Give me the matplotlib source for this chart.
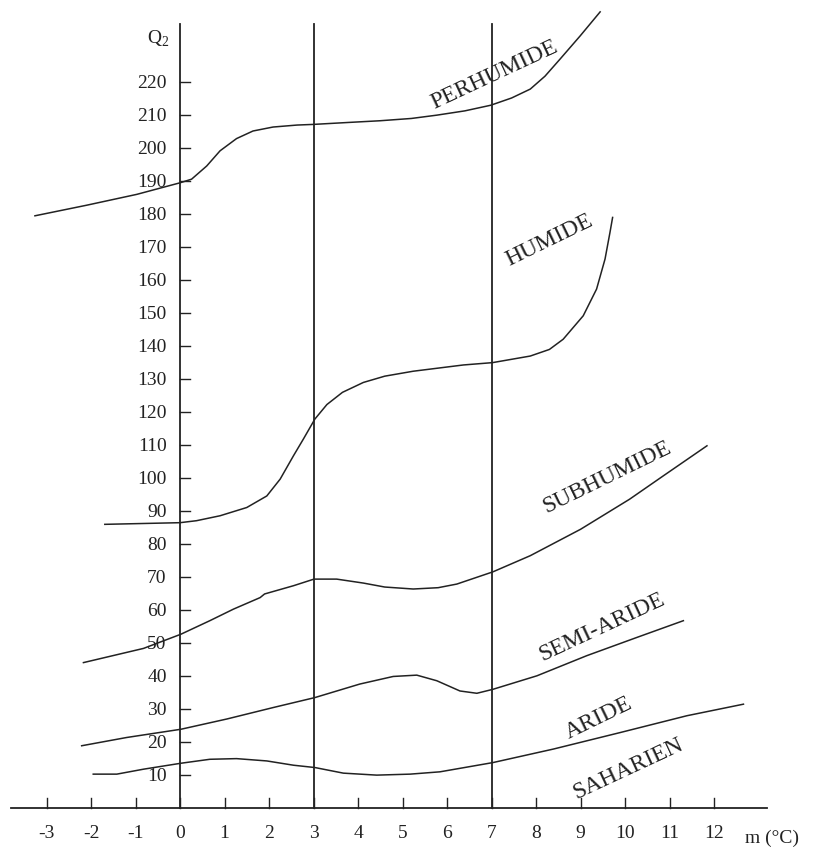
# Emberger climagram: Q2 against m (°C), with bioclimatic zone boundaries.

import matplotlib
matplotlib.use('Agg')
import matplotlib.pyplot as plt

plt.rcParams['font.family'] = ['Liberation Serif', 'DejaVu Serif']

# axis ticks
x_ticks = [-3, -2, -1, 0, 1, 2, 3, 4, 5, 6, 7, 8, 9, 10, 11, 12]
y_ticks = [10, 20, 30, 40, 50, 60, 70, 80, 90, 100, 110, 120, 130, 140, 150,
           160, 170, 180, 190, 200, 210, 220]
v_lines = [0, 3, 7]  # y axis plus the two reference lines

# zone boundaries
perhumide_x = [-3.26, -2.1, -0.97, 0.0, 0.26, 0.6, 0.9, 1.27, 1.64, 2.09, 2.63,
               3.0, 3.8, 4.49, 5.2, 5.77, 6.4, 6.98, 7.45, 7.87, 8.2, 8.54,
               8.99, 9.44]
perhumide_y = [179.5, 182.7, 186.0, 189.5, 190.6, 194.6, 199.2, 202.9, 205.2,
               206.4, 207.0, 207.2, 207.8, 208.3, 209.0, 210.0, 211.3, 213.0,
               215.2, 217.9, 221.8, 227.0, 234.0, 241.3]

humide_x = [-1.69, 0.0, 0.37, 0.9, 1.5, 1.95, 2.25, 2.55, 2.77, 3.03, 3.3, 3.65,
            4.12, 4.6, 5.24, 6.37, 7.02, 7.87, 8.3, 8.61, 9.06, 9.36, 9.55,
            9.66, 9.72]
humide_y = [86.0, 86.5, 87.1, 88.6, 91.1, 94.6, 99.7, 106.8, 111.8, 117.9, 122.3,
            126.0, 129.0, 130.9, 132.4, 134.3, 135.0, 137.0, 139.0, 142.1, 149.2,
            157.3, 166.4, 174.4, 179.0]

subhumide_x = [-2.17, -0.82, 0.02, 0.67, 1.2, 1.8, 1.9, 2.55, 3.01, 3.52, 4.12,
               4.6, 5.24, 5.8, 6.22, 7.03, 7.87, 9.0, 10.1, 10.86, 11.84]
subhumide_y = [44.1, 48.4, 52.7, 56.8, 60.3, 63.8, 64.9, 67.4, 69.4, 69.4, 68.2,
               67.0, 66.4, 66.8, 67.9, 71.6, 76.5, 84.5, 93.6, 100.7, 109.8]

semiaride_x = [-2.21, -1.2, 0.02, 1.05, 2.1, 3.03, 4.04, 4.79, 5.32, 5.77, 6.29,
               6.67, 7.03, 8.02, 9.14, 10.26, 11.31]
semiaride_y = [18.9, 21.4, 23.9, 27.0, 30.5, 33.5, 37.6, 39.9, 40.3, 38.6, 35.5,
               34.8, 36.0, 40.1, 46.2, 51.7, 56.8]

aride_x = [-1.95, -1.42, -0.82, 0.02, 0.67, 1.27, 1.95, 2.55, 3.03, 3.67, 4.42,
           5.17, 5.84, 7.03, 8.39, 9.89, 11.39, 12.66]
aride_y = [10.3, 10.3, 11.8, 13.6, 14.8, 15.0, 14.3, 13.0, 12.3, 10.6, 10.0,
           10.3, 11.0, 13.8, 17.9, 22.9, 28.0, 31.5]

# zone names
zone_names = ['PERHUMIDE', 'HUMIDE', 'SUBHUMIDE', 'SEMI-ARIDE', 'ARIDE', 'SAHARIEN']
zone_x = [7.06, 8.31, 9.59, 9.48, 9.4, 10.07]
zone_y = [222.4, 172.4, 100.7, 55.2, 27.5, 12.3]
zone_rot = [25, 26, 26, 25, 26, 25]

fig = plt.figure(figsize=(8.24, 8.54), dpi=100)
ax = fig.add_axes([0, 0, 1, 1])
ax.set_xlim(-4.045, 14.47)
ax.set_ylim(-13.6, 245.2)
ax.axis('off')

ink = '#222222'

# frame: base line, vertical lines, ticks
ax.plot([-3.8, 13.2], [0, 0], color=ink, lw=1.3)
for v in v_lines:
    ax.plot([v, v], [0, 237.6], color=ink, lw=1.3)
for t in x_ticks:
    ax.plot([t, t], [0, 3.0], color=ink, lw=1.0)
    ax.text(t, -7.3, str(t), ha='center', va='center', fontsize=14, color=ink)
for t in y_ticks:
    ax.plot([0, 0.22], [t, t], color=ink, lw=1.0)
    ax.text(-0.3, t, str(t), ha='right', va='center', fontsize=14, color=ink)

ax.text(-0.49, 233.3, r'Q$_\mathregular{2}$', ha='center', va='center',
        fontsize=14, color=ink)
ax.text(12.7, -8.8, 'm (°C)', ha='left', va='center', fontsize=14, color=ink)

# boundaries
curves = [(perhumide_x, perhumide_y), (humide_x, humide_y),
          (subhumide_x, subhumide_y), (semiaride_x, semiaride_y),
          (aride_x, aride_y)]
for cx, cy in curves:
    ax.plot(cx, cy, color=ink, lw=1.1, solid_joinstyle='round')

for name, lx, ly, rot in zip(zone_names, zone_x, zone_y, zone_rot):
    ax.text(lx, ly, name, ha='center', va='center', rotation=rot,
            rotation_mode='anchor', fontsize=17, color=ink)

fig.savefig('out.png', dpi=100)
